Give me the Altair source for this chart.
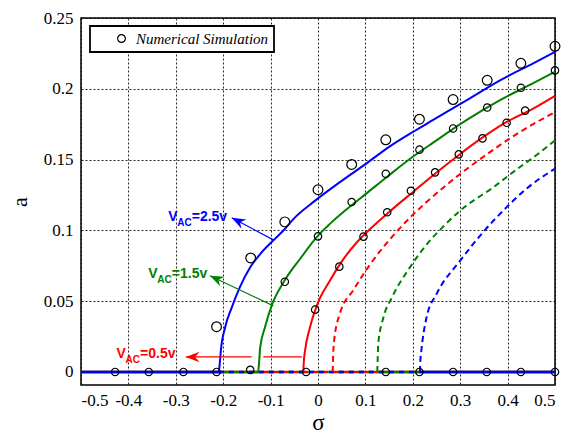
import altair as alt
import pandas as pd

# ---------------- data ----------------
# backbone curves (sigma, a)
blue_solid_sigma = [-0.209, -0.207, -0.205, -0.196, -0.182, -0.165, -0.143, -0.122, -0.091, -0.070, -0.052, -0.006, 0.050, 0.101, 0.150, 0.200, 0.243, 0.314, 0.384, 0.454, 0.500]
blue_solid_a = [0.0, 0.007, 0.0149, 0.0314, 0.0455, 0.0597, 0.0739, 0.0833, 0.094, 0.101, 0.108, 0.121, 0.135, 0.147, 0.159, 0.1695, 0.178, 0.192, 0.206, 0.218, 0.226]

green_solid_sigma = [-0.126, -0.124, -0.122, -0.112, -0.098, -0.073, -0.038, 0.000, 0.025, 0.060, 0.101, 0.150, 0.200, 0.243, 0.314, 0.384, 0.454, 0.500]
green_solid_a = [0.0, 0.008, 0.0172, 0.0314, 0.0467, 0.0632, 0.0798, 0.0963, 0.1046, 0.1148, 0.1258, 0.139, 0.152, 0.162, 0.178, 0.192, 0.204, 0.212]

red_solid_sigma = [-0.031, -0.030, -0.0274, -0.017, 0.000, 0.025, 0.046, 0.082, 0.110, 0.150, 0.200, 0.243, 0.300, 0.349, 0.398, 0.454, 0.500]
red_solid_a = [0.0, 0.007, 0.0149, 0.0314, 0.049, 0.0645, 0.076, 0.0916, 0.101, 0.113, 0.127, 0.139, 0.154, 0.166, 0.1766, 0.186, 0.195]

red_dashed_sigma = [0.031, 0.032, 0.034, 0.046, 0.075, 0.110, 0.159, 0.194, 0.229, 0.278, 0.349, 0.419, 0.500]
red_dashed_a = [0.0, 0.012, 0.022, 0.041, 0.058, 0.076, 0.0965, 0.109, 0.120, 0.134, 0.152, 0.168, 0.1836]

green_dashed_sigma = [0.125, 0.126, 0.127, 0.138, 0.156, 0.194, 0.229, 0.264, 0.300, 0.370, 0.419, 0.468, 0.500]
green_dashed_a = [0.0, 0.010, 0.0196, 0.0385, 0.0526, 0.0739, 0.090, 0.1026, 0.114, 0.1305, 0.143, 0.155, 0.1636]

blue_dashed_sigma = [0.215, 0.216, 0.218, 0.229, 0.250, 0.300, 0.349, 0.398, 0.440, 0.500]
blue_dashed_a = [0.0, 0.008, 0.015, 0.0385, 0.055, 0.0786, 0.099, 0.1164, 0.1295, 0.1436]

# numerical simulation points
sim_blue_sigma = [-0.214, -0.142, -0.070, 0.000, 0.071, 0.143, 0.214, 0.285, 0.357, 0.428, 0.500]
sim_blue_a = [0.032, 0.0805, 0.106, 0.1287, 0.1466, 0.164, 0.1785, 0.1924, 0.206, 0.218, 0.230]
sim_green_sigma = [-0.143, -0.070, 0.000, 0.071, 0.143, 0.214, 0.285, 0.357, 0.428, 0.500]
sim_green_a = [0.0015, 0.0637, 0.0958, 0.120, 0.140, 0.157, 0.172, 0.1868, 0.2007, 0.213]
sim_red_sigma = [-0.006, 0.045, 0.096, 0.146, 0.196, 0.247, 0.297, 0.347, 0.398, 0.437]
sim_red_a = [0.044, 0.0744, 0.0956, 0.1128, 0.128, 0.141, 0.1537, 0.165, 0.176, 0.1846]
sim_zero_sigma = [-0.428, -0.357, -0.284, -0.214, -0.025, 0.143, 0.214, 0.285, 0.356, 0.428, 0.500]
sim_zero_a = [0, 0, 0, 0, 0, 0, 0, 0, 0, 0, 0]

series_names = ["0.5v", "1.5v", "2.5v"]
series_colors = ["#ff0000", "#008000", "#0000ff"]
legend_label = "Numerical Simulation\u00a0\u00a0\u00a0\u00a0"

# annotations
label_sigma = [-0.316, -0.358, -0.425]
label_a = [0.1093, 0.0692, 0.0125]
label_rest = ["=2.5v", "=1.5v", "=0.5v"]
label_series = ["2.5v", "1.5v", "0.5v"]

arrow_tail_sigma = [-0.094, -0.094]
arrow_tail_a = [0.0933, 0.0467]
arrow_head_sigma = [-0.182, -0.228]
arrow_head_a = [0.1089, 0.068]
arrow_series = ["2.5v", "1.5v"]

red_arrow_start = [-0.279, -0.1154]
red_arrow_end = [-0.140, -0.034]
red_arrow_a = 0.0106

x_ticks = [-0.5, -0.4, -0.3, -0.2, -0.1, 0, 0.1, 0.2, 0.3, 0.4, 0.5]
y_ticks = [0, 0.05, 0.1, 0.15, 0.2, 0.25]

SERIF = "Liberation Serif, Times New Roman, Times, serif"
SANS = "Liberation Sans, Arial, Helvetica, sans-serif"

# ---------------- build tables ----------------
def curve(sig, a, name):
    return pd.DataFrame({"sigma": sig, "a": a, "v": name})

solid_df = pd.concat([
    curve(red_solid_sigma, red_solid_a, "0.5v"),
    curve(green_solid_sigma, green_solid_a, "1.5v"),
    curve(blue_solid_sigma, blue_solid_a, "2.5v"),
])
dashed_df = pd.concat([
    curve(red_dashed_sigma, red_dashed_a, "0.5v"),
    curve(green_dashed_sigma, green_dashed_a, "1.5v"),
    curve(blue_dashed_sigma, blue_dashed_a, "2.5v"),
])

starts = {"0.5v": (red_solid_sigma[0], red_dashed_sigma[0]),
          "1.5v": (green_solid_sigma[0], green_dashed_sigma[0]),
          "2.5v": (blue_solid_sigma[0], blue_dashed_sigma[0])}

xs = alt.Scale(domain=[-0.5, 0.5], nice=False, zero=False)
ys = alt.Scale(domain=[-0.0092, 0.25], nice=False, zero=False)
cs = alt.Scale(domain=series_names, range=series_colors)

X = alt.X("sigma:Q", scale=xs, title="σ",
          axis=alt.Axis(values=x_ticks, labelExpr="'' + datum.value", grid=True,
                        labelFont=SERIF, titleFont=SERIF))
Y = alt.Y("a:Q", scale=ys, title="a",
          axis=alt.Axis(values=y_ticks, labelExpr="'' + datum.value", grid=True,
                        labelFont=SERIF, titleFont=SERIF))

layers = []
# zero (trivial) solutions, red then green then blue on top
for name in series_names:
    s0, s1 = starts[name]
    solid_seg = pd.DataFrame({"sigma": [-0.5, s1], "sigma2": [s0, 0.5], "a": [0, 0], "v": [name, name]})
    dash_seg = pd.DataFrame({"sigma": [s0], "sigma2": [s1], "a": [0], "v": [name]})
    layers.append(alt.Chart(solid_seg).mark_rule(strokeWidth=2.5).encode(
        x=alt.X("sigma:Q", scale=xs), x2="sigma2", y=alt.Y("a:Q", scale=ys),
        color=alt.Color("v:N", scale=cs, legend=None)))
    layers.append(alt.Chart(dash_seg).mark_rule(strokeWidth=2.5, strokeDash=[5, 5]).encode(
        x=alt.X("sigma:Q", scale=xs), x2="sigma2", y=alt.Y("a:Q", scale=ys),
        color=alt.Color("v:N", scale=cs, legend=None)))

layers.append(alt.Chart(solid_df).mark_line(strokeWidth=2, interpolate="monotone").encode(
    x=X, y=Y, color=alt.Color("v:N", scale=cs, legend=None), detail="v:N", order="sigma:Q"))
layers.append(alt.Chart(dashed_df).mark_line(strokeWidth=2, strokeDash=[6, 4], interpolate="monotone").encode(
    x=alt.X("sigma:Q", scale=xs), y=alt.Y("a:Q", scale=ys),
    color=alt.Color("v:N", scale=cs, legend=None), detail="v:N", order="sigma:Q"))

# simulation circles
big_df = pd.DataFrame({"sigma": sim_blue_sigma, "a": sim_blue_a, "lab": legend_label})
small_df = pd.DataFrame({
    "sigma": sim_green_sigma + sim_red_sigma + sim_zero_sigma,
    "a": sim_green_a + sim_red_a + sim_zero_a,
    "lab": legend_label})
shape_enc = alt.Shape("lab:N", scale=alt.Scale(range=["circle"]), title=None,
                      legend=alt.Legend(orient="none", legendX=9, legendY=8, padding=5,
                                        strokeColor="black", fillColor="white", cornerRadius=0,
                                        symbolOffset=19, symbolSize=60, symbolStrokeColor="black",
                                        symbolFillColor="white", symbolStrokeWidth=1.2,
                                        labelFont=SERIF, labelFontStyle="italic",
                                        labelFontSize=15, labelOffset=7, labelColor="black"))
layers.append(alt.Chart(big_df).mark_point(filled=False, color="black", size=95, strokeWidth=1.2, opacity=1).encode(
    x=alt.X("sigma:Q", scale=xs), y=alt.Y("a:Q", scale=ys), shape=shape_enc))
layers.append(alt.Chart(small_df).mark_point(filled=False, color="black", size=55, strokeWidth=1.2, opacity=1).encode(
    x=alt.X("sigma:Q", scale=xs), y=alt.Y("a:Q", scale=ys), shape=shape_enc))

# annotation arrows
arr_df = pd.DataFrame({"sigma": arrow_tail_sigma, "a": arrow_tail_a,
                       "sigma2": arrow_head_sigma, "a2": arrow_head_a, "v": arrow_series})
layers.append(alt.Chart(arr_df).mark_rule(strokeWidth=1.2).encode(
    x=alt.X("sigma:Q", scale=xs), y=alt.Y("a:Q", scale=ys), x2="sigma2", y2="a2",
    color=alt.Color("v:N", scale=cs, legend=None)))
red_df = pd.DataFrame({"sigma": red_arrow_start, "sigma2": red_arrow_end,
                       "a": [red_arrow_a] * len(red_arrow_start), "v": "0.5v"})
layers.append(alt.Chart(red_df).mark_rule(strokeWidth=1.2).encode(
    x=alt.X("sigma:Q", scale=xs), x2="sigma2", y=alt.Y("a:Q", scale=ys),
    color=alt.Color("v:N", scale=cs, legend=None)))

head_path = "M 0 0 L 1 -0.38 L 0.68 0 L 1 0.38 Z"
heads = [
    (arrow_head_sigma[0], arrow_head_a[0], "2.5v", 27.9),
    (arrow_head_sigma[1], arrow_head_a[1], "1.5v", 25.4),
    (red_arrow_start[0], red_arrow_a, "0.5v", 0),
]
for hs, ha, hv, ang in heads:
    hdf = pd.DataFrame({"sigma": [hs], "a": [ha], "v": [hv]})
    layers.append(alt.Chart(hdf).mark_point(shape=head_path, filled=True, size=760, angle=ang,
                                            opacity=1, strokeWidth=0).encode(
        x=alt.X("sigma:Q", scale=xs), y=alt.Y("a:Q", scale=ys),
        color=alt.Color("v:N", scale=cs, legend=None)))

lab_df = pd.DataFrame({"sigma": label_sigma, "a": label_a, "rest": label_rest, "v": label_series,
                       "V": "V", "AC": "AC"})
for field, dx, dy, fs in [("V", 0, 0, 14), ("AC", 9, 6, 10), ("rest", 23.5, 0, 14)]:
    layers.append(alt.Chart(lab_df).mark_text(align="left", baseline="middle", dx=dx, dy=dy,
                                              font=SANS, fontWeight="bold",
                                              fontSize=fs).encode(
        x=alt.X("sigma:Q", scale=xs), y=alt.Y("a:Q", scale=ys), text=f"{field}:N",
        color=alt.Color("v:N", scale=cs, legend=None)))

chart = alt.layer(*layers).properties(
    width=474, height=367,
    autosize=alt.AutoSizeParams(type="none"),
    padding={"left": 73, "top": 10, "right": 16, "bottom": 50},
).configure_view(stroke="black", strokeWidth=1.5).configure_axis(
    domain=False, ticks=False, gridColor="black", gridDash=[2, 2], gridOpacity=0.85, gridWidth=1,
    labelFont=SERIF, labelFontSize=17, labelColor="black",
    titleFont=SERIF, titleColor="black", titleFontWeight="normal",
).configure_axisX(labelPadding=7, titleFontSize=23, titlePadding=3).configure_axisY(
    labelPadding=8, titleFontSize=22, titlePadding=12
).configure_legend(strokeWidth=1.8)

chart.save("out.html", embed_options={"renderer": "svg", "actions": False})
